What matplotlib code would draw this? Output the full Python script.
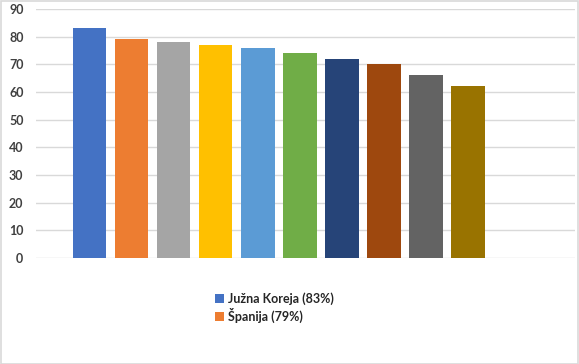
import matplotlib
matplotlib.use("Agg")
import matplotlib.pyplot as plt
from matplotlib.patches import Rectangle

# Data
values = [83, 79, 78, 77, 76, 74, 72, 70, 66, 62]
colors = ["#4472C4", "#ED7D31", "#A5A5A5", "#FFC000", "#5B9BD5",
          "#70AD47", "#264478", "#9E480E", "#636363", "#997300"]
legend_labels = ["Južna Koreja (83%)", "Španija (79%)"]
yticks = [0, 10, 20, 30, 40, 50, 60, 70, 80, 90]

plt.rcParams['font.family'] = ['Lato', 'DejaVu Sans']

W, H = 579, 364
fig = plt.figure(figsize=(W / 100, H / 100), dpi=100)
ax = fig.add_axes([36 / W, 1 - 258 / H, (575 - 36) / W, (258 - 9) / H])

x = list(range(len(values)))
bars = ax.bar(x, values, width=0.8, color=colors, zorder=3)

ax.set_ylim(0, 90)
ax.set_xlim(-1.27, 11.54)
ax.set_yticks(yticks)
ax.set_xticks([])
ax.grid(axis='y', color='#D9D9D9', linewidth=1.0, zorder=0)
for s in ax.spines.values():
    s.set_visible(False)
ax.tick_params(axis='y', length=0, pad=9, labelsize=9, labelcolor='#404040')
for lbl in ax.get_yticklabels():
    lbl.set_fontweight('bold')

fig.legend(bars[:2], legend_labels, loc='upper left',
           bbox_to_anchor=(215 / W, 1 - 292 / H), frameon=False,
           handlelength=0.7, handleheight=0.7, handletextpad=0.35,
           labelspacing=0.25, borderpad=0, borderaxespad=0,
           prop={'size': 9, 'weight': 'bold'}, labelcolor='#262626')

fig.patches.append(Rectangle((0.5 / W, 0.5 / H), 1 - 1.5 / W, 1 - 1.5 / H,
                             transform=fig.transFigure, fill=False,
                             edgecolor='#D9D9D9', linewidth=1.2))

fig.savefig("out.png", dpi=100)
